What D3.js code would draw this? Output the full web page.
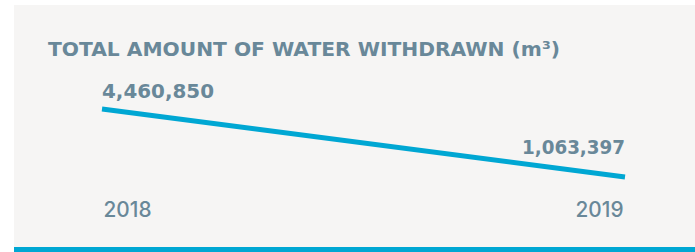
<!DOCTYPE html>
<html><head><meta charset="utf-8">
<script src="https://cdn.jsdelivr.net/npm/d3@7"></script>
<style>html,body{margin:0;padding:0;background:#fff;}svg{display:block;}</style>
</head><body>
<svg id="c" width="695" height="252"></svg>
<script>
const years = ["2018", "2019"];
const values = [4460850, 1063397];
const title = "TOTAL AMOUNT OF WATER WITHDRAWN (m³)";

const W = 695, H = 252;
const textColor = "#698899", lineColor = "#00a7d3";
const font = "'DejaVu Sans', sans-serif";
const svg = d3.select("#c");

svg.append("rect").attr("x", 14).attr("y", 5).attr("width", W - 14).attr("height", 242).attr("fill", "#f6f5f4");
svg.append("rect").attr("x", 14).attr("y", 247).attr("width", W - 14).attr("height", 5).attr("fill", lineColor);

svg.append("text").attr("x", 48).attr("y", 56).text(title)
  .attr("font-family", font).attr("font-weight", "bold").attr("font-size", 19.5)
  .attr("fill", textColor).attr("textLength", 512).attr("lengthAdjust", "spacingAndGlyphs");

const x = d3.scalePoint().domain(years).range([102, 625]);
const y = d3.scaleLinear().domain([0, d3.max(values)]).range([198.3, 109]);
const data = years.map((yr, i) => ({yr, v: values[i]}));

svg.append("path").datum(data)
  .attr("d", d3.line().x(d => x(d.yr)).y(d => y(d.v)))
  .attr("fill", "none").attr("stroke", lineColor).attr("stroke-width", 5);

const fmt = d3.format(",");
const valWidths = [112, 103];
const valOffsets = [11.5, 23];
svg.selectAll(".val").data(data).join("text")
  .attr("x", (d, i) => i === 0 ? x(d.yr) : x(d.yr) - valWidths[i])
  .attr("y", (d, i) => y(d.v) - valOffsets[i])
  .text(d => fmt(d.v))
  .attr("font-family", font).attr("font-weight", "bold").attr("font-size", 20)
  .attr("fill", textColor)
  .attr("textLength", (d, i) => valWidths[i]).attr("lengthAdjust", "spacingAndGlyphs");

const axis = d3.axisBottom(x).tickSize(0).tickPadding(0);
const g = svg.append("g").attr("transform", "translate(0,202)").call(axis);
g.select(".domain").remove();
g.selectAll("text")
  .attr("font-family", "Inter, 'DejaVu Sans', sans-serif").attr("font-weight", 500)
  .attr("font-size", 21).attr("fill", textColor)
  .attr("dy", 0).attr("y", 15)
  .attr("text-anchor", (d, i) => i === 0 ? "start" : "end")
  .attr("dx", (d, i) => i === 0 ? 1 : -2)
  .attr("textLength", 48).attr("lengthAdjust", "spacingAndGlyphs");
</script>
</body></html>
